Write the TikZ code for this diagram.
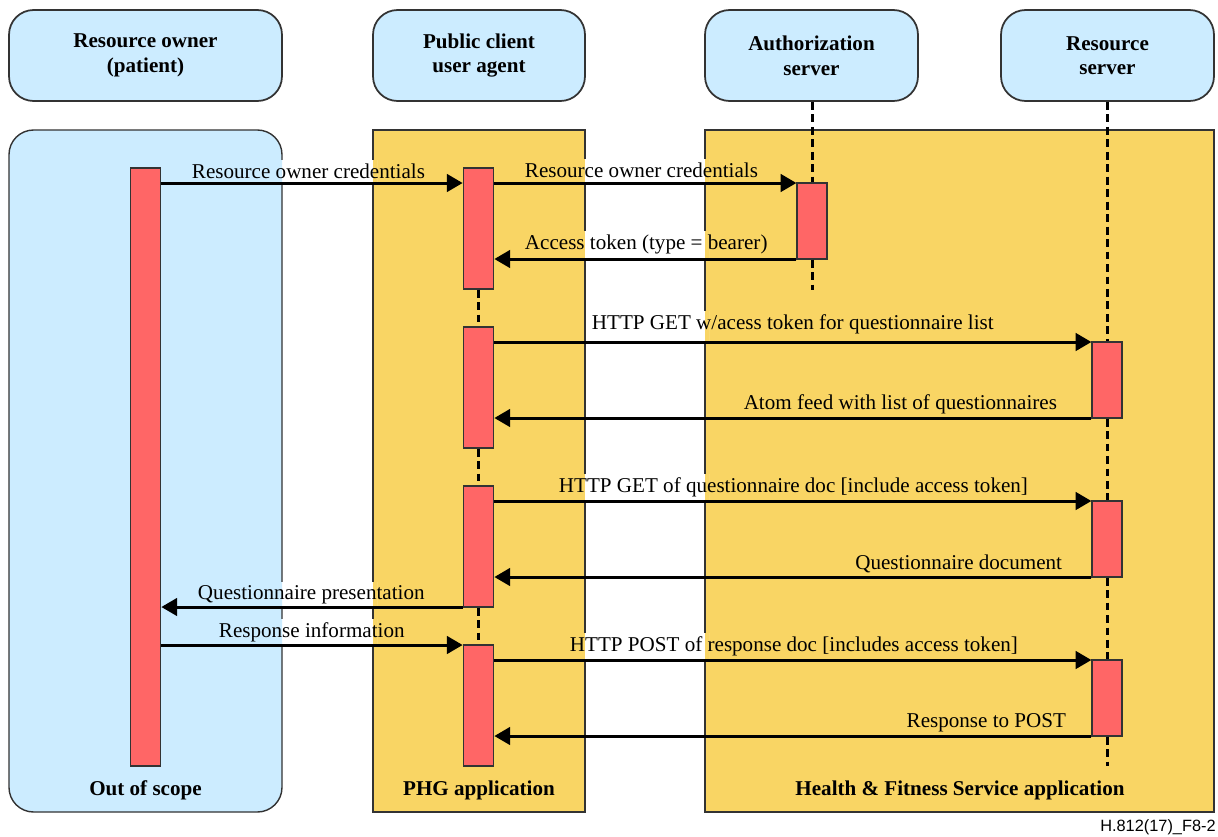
\documentclass[tikz,border=0pt]{standalone}
\usepackage{fontspec}
\setmainfont{Liberation Serif}
\newfontfamily\figsans{Liberation Sans}
\usetikzlibrary{arrows.meta,calc}

\definecolor{ownerblue}{RGB}{204,236,255}
\definecolor{appyellow}{RGB}{249,213,100}
\definecolor{barred}{RGB}{255,102,102}
\definecolor{edgegray}{RGB}{51,51,51}

\pgfdeclarelayer{back}
\pgfdeclarelayer{front}
\pgfsetlayers{back,main,front}

% fills of the three application areas (no outlines)
\newcommand\regionfills{%
  \fill[white] (0,0) rectangle (1218,836);
  \fill[ownerblue, rounded corners=14pt] (9,130) rectangle (282,812);
  \fill[appyellow] (373,130) rectangle (585,812);
  \fill[appyellow] (705,130) rectangle (1214,812);}

% a message label hides the vertical area outlines lying under it,
% down to its arrow
\newcommand\labelpatch[2]{%
  \begin{scope}
    \clip (#1.north west) rectangle (#1.east |- #2);
    \clip (278,0) rectangle (286,836) (369,0) rectangle (377,836)
          (581,0) rectangle (589,836) (701,0) rectangle (709,836);
    \regionfills
  \end{scope}}

\tikzset{
  header/.style={draw=edgegray, line width=1pt, fill=ownerblue,
    rounded corners=14pt, inner sep=0pt, minimum height=1.82cm,
    align=center, font=\bfseries\fontsize{12}{14}\selectfont},
  arealine/.style={draw=edgegray, line width=0.8pt},
  areatitle/.style={anchor=base, inner sep=0pt,
    font=\bfseries\fontsize{12}{14}\selectfont},
  bar/.style={draw=edgegray, line width=0.7pt, fill=barred,
    inner sep=0pt, minimum width=0.61cm},
  lifeline/.style={line width=1.7pt, dash pattern=on 4.5pt off 2.6pt},
  msg/.style={line width=1.7pt, -{Triangle[length=9pt,width=10pt]}},
  lbl/.style={inner sep=1.5pt, font=\fontsize{12}{14}\selectfont},
}

\begin{document}
\begin{tikzpicture}[x=0.02cm, y=-0.02cm]
\useasboundingbox (0,0) rectangle (1218,836);

% application areas
\begin{pgfonlayer}{back}
  \regionfills
  \draw[arealine, rounded corners=14pt] (9,130) rectangle (282,812);
  \draw[arealine] (373,130) rectangle (585,812);
  \draw[arealine] (705,130) rectangle (1214,812);
\end{pgfonlayer}

\node[areatitle] (scope) at (145.5,795) {Out of scope};
\node[areatitle] (phg) at (479,795) {PHG application};
\node[areatitle] (hfs) at (960,795) {Health \& Fitness Service application};

% participants
\node[header, minimum width=5.46cm] (roh) at (145.5,55.5) {Resource owner\\(patient)};
\node[header, minimum width=4.24cm] (pch) at (479,55.5) {Public client\\user agent};
\node[header, minimum width=4.26cm] (ash) at (811.5,55.5) {Authorization\\server};
\node[header, minimum width=4.26cm] (rsh) at (1107.5,55.5) {Resource\\server};

% activation bars
\node[bar, minimum height=11.96cm] (ro) at (145.5,467) {};
\node[bar, minimum height=2.42cm] (pc1) at (478.5,228.5) {};
\node[bar, minimum height=2.42cm] (pc2) at (478.5,387.5) {};
\node[bar, minimum height=2.42cm] (pc3) at (478.5,546.5) {};
\node[bar, minimum height=2.42cm] (pc4) at (478.5,705.5) {};
\node[bar, minimum width=0.6cm, minimum height=1.52cm] (as) at (812,221) {};
\node[bar, minimum width=0.6cm, minimum height=1.52cm] (rs1) at (1107,380) {};
\node[bar, minimum width=0.6cm, minimum height=1.52cm] (rs2) at (1107,539) {};
\node[bar, minimum width=0.6cm, minimum height=1.52cm] (rs3) at (1107,698) {};

% lifelines
\coordinate (asend) at (812,290);
\coordinate (rsend) at (1107,766);
\draw[lifeline] (as.north |- ash.south) -- (as.north);
\draw[lifeline] (as.south) -- (asend);
\draw[lifeline] (rs1.north |- rsh.south) -- (rs1.north);
\draw[lifeline] (rs1.south) -- (rs2.north);
\draw[lifeline] (rs2.south) -- (rs3.north);
\draw[lifeline] (rs3.south) -- (rsend);
\draw[lifeline] (pc1.south) -- (pc2.north);
\draw[lifeline] (pc2.south) -- (pc3.north);
\draw[lifeline] (pc3.south) -- (pc4.north);

% message heights
\coordinate (m1) at (0,183);
\coordinate (m2) at (0,259);
\coordinate (m3) at (0,342);
\coordinate (m4) at (0,418);
\coordinate (m5) at (0,501);
\coordinate (m6) at (0,577);
\coordinate (m7) at (0,607);
\coordinate (m8) at (0,645);
\coordinate (m9) at (0,660);
\coordinate (m10) at (0,736);

% messages
\begin{pgfonlayer}{front}
  \draw[msg] (ro.east |- m1) -- (pc1.west |- m1);
  \node[lbl, anchor=base west] (l1) at (189,178) {Resource owner credentials};
  \draw[msg] (pc1.east |- m1) -- (as.west |- m1);
  \node[lbl, anchor=base west] (l2) at (522,177) {Resource owner credentials};
  \draw[msg] (as.west |- m2) -- (pc1.east |- m2);
  \node[lbl, anchor=base west] (l3) at (522,249) {Access token (type = bearer)};
  \draw[msg] (pc2.east |- m3) -- (rs1.west |- m3);
  \node[lbl, anchor=base west] (l4) at (589,329) {HTTP GET w/acess token for questionnaire list};
  \draw[msg] (rs1.west |- m4) -- (pc2.east |- m4);
  \node[lbl, anchor=base east] (l5) at (1060,409) {Atom feed with list of questionnaires};
  \draw[msg] (pc3.east |- m5) -- (rs2.west |- m5);
  \node[lbl, anchor=base west] (l6) at (556,492) {HTTP GET of questionnaire doc [include access token]};
  \draw[msg] (rs2.west |- m6) -- (pc3.east |- m6);
  \node[lbl, anchor=base east] (l7) at (1065,569) {Questionnaire document};
  \draw[msg] (pc3.west |- m7) -- (ro.east |- m7);
  \node[lbl, anchor=base west] (l8) at (195,599) {Questionnaire presentation};
  \draw[msg] (ro.east |- m8) -- (pc4.west |- m8);
  \node[lbl, anchor=base west] (l9) at (216,637) {Response information};
  \draw[msg] (pc4.east |- m9) -- (rs3.west |- m9);
  \node[lbl, anchor=base west] (l10) at (567,651) {HTTP POST of response doc [includes access token]};
  \draw[msg] (rs3.west |- m10) -- (pc4.east |- m10);
  \node[lbl, anchor=base east] (l11) at (1069,727) {Response to POST};
\end{pgfonlayer}

% area outlines are hidden behind the labels
\begin{pgfonlayer}{back}
  \labelpatch{l1}{m1}
  \labelpatch{l2}{m1}
  \labelpatch{l3}{m2}
  \labelpatch{l4}{m3}
  \labelpatch{l5}{m4}
  \labelpatch{l6}{m5}
  \labelpatch{l7}{m6}
  \labelpatch{l8}{m7}
  \labelpatch{l9}{m8}
  \labelpatch{l10}{m9}
  \labelpatch{l11}{m10}
\end{pgfonlayer}

% figure reference
\node[anchor=base east, inner sep=0pt, font=\figsans\fontsize{9.3}{11}\selectfont] (figref) at (1216,831) {H.812(17)\_F8-2};
\end{tikzpicture}
\end{document}
